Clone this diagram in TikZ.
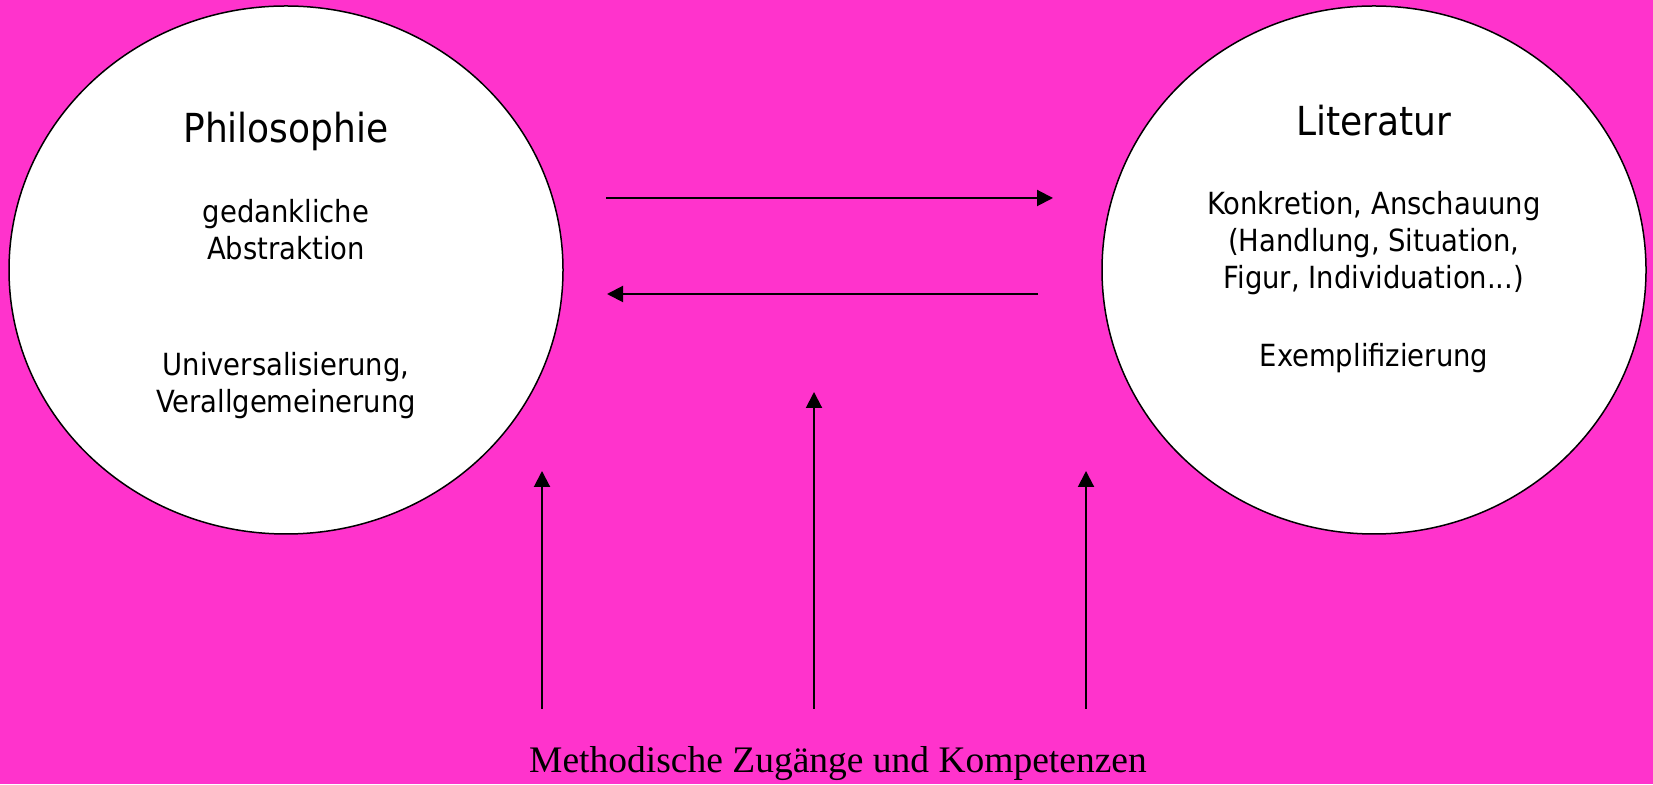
\documentclass[tikz,border=0pt]{standalone}
\usepackage{fontspec}
\usepackage{tikz}
\usetikzlibrary{shapes.geometric,arrows.meta}
\newfontfamily\bubblefont{DejaVu Sans Condensed}
\newfontfamily\captionfont{Liberation Serif}
\definecolor{slidebgcolor}{RGB}{255,51,204}

\begin{document}
\begin{tikzpicture}[x=1pt,y=1pt,
    topicbubble/.style={draw=black,line width=1.5pt,fill=white,ellipse,inner sep=0pt},
    bubbletitle/.style={font=\bubblefont\fontsize{40}{48}\selectfont,anchor=base},
    bubbletext/.style={font=\bubblefont\fontsize{30.5}{37}\selectfont,align=center,anchor=base},
    flowarrow/.style={line width=2pt,-{Triangle[length=16pt,width=16pt]}}]
    \fill [slidebgcolor] (0,0) rectangle (1653,784);
    \useasboundingbox (0,0) rectangle (1653,784);

    % the two bubbles
    \node [topicbubble,minimum width=554pt,minimum height=528pt] (philo) at (286,514) {};
    \node [topicbubble,minimum width=544pt,minimum height=528pt] (litera) at (1374,514) {};

    % texts sit on the baseline of their last line
    \node [bubbletitle] (philotitle) at (286,641) {Philosophie};
    \node [bubbletext] (philoabstr) at (286,524) {gedankliche\\Abstraktion};
    \node [bubbletext] (philouniv) at (286,371) {Universalisierung,\\Verallgemeinerung};

    \node [bubbletitle] (literatitle) at (1374,648) {Literatur};
    \node [bubbletext] (literakonkr) at (1374,495) {Konkretion, Anschauung\\(Handlung, Situation,\\Figur, Individuation...)};
    \node [bubbletext] (literaexempl) at (1374,417) {Exemplifizierung};

    \node [font=\captionfont\fontsize{37.5}{45}\selectfont,anchor=base] (methods) at (838,12)
        {Methodische Zugänge und Kompetenzen};

    % exchange between the bubbles
    \coordinate (toliterastart) at (606,586);
    \coordinate (toliteraend) at (1053,586);
    \coordinate (tophilostart) at (1038,490);
    \coordinate (tophiloend) at (607,490);
    \draw [flowarrow] (toliterastart) -- (toliteraend);
    \draw [flowarrow] (tophilostart) -- (tophiloend);

    % methods pointing up
    \foreach \name/\x/\tipy in {left/542/313, mid/814/392, right/1086/313} {
        \coordinate (\name foot) at (\x,75);
        \coordinate (\name head) at (\x,\tipy);
        \draw [flowarrow] (\name foot) -- (\name head);
    }
\end{tikzpicture}
\end{document}
